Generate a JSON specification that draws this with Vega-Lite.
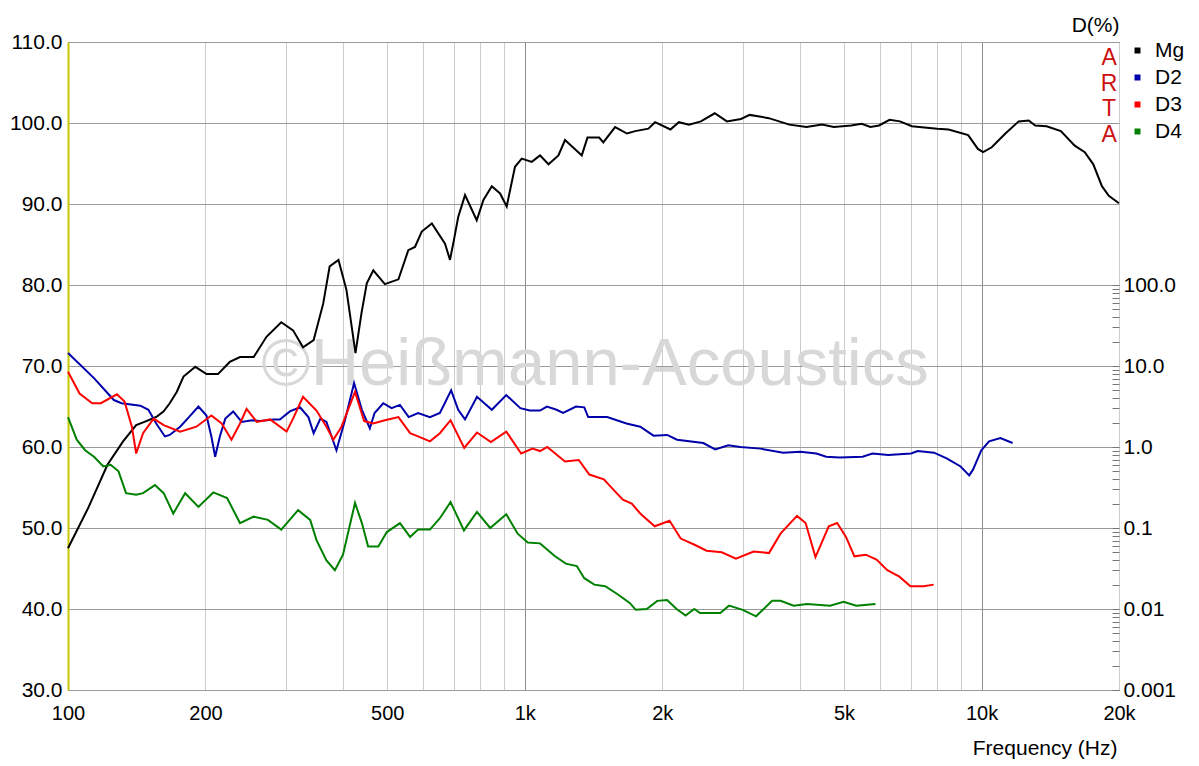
{
"$schema": "https://vega.github.io/schema/vega-lite/v6.json",
"width": 1051,
"height": 648,
"autosize": {"type": "none"},
"padding": {"left": 68, "top": 42, "right": 80, "bottom": 76},
"background": "white",
"config": {"view": {"stroke": "#333333", "strokeWidth": 1}, "font": "Liberation Sans", "text": {"font": "Liberation Sans"}},
"datasets": {
"wm": [{"f": 1425, "db": 67.6, "t": "©Heißmann-Acoustics"}],
"arta": [{"f": 19030, "db": 107.2, "t": "A"}, {"f": 19030, "db": 104.0, "t": "R"}, {"f": 19030, "db": 100.9, "t": "T"}, {"f": 19030, "db": 97.7, "t": "A"}],
"mg": [
{"f":100,"db":47.5},{"f":111,"db":52.6},{"f":122,"db":57.8},{"f":132,"db":60.7},{"f":141,"db":62.7},{"f":147,"db":63.1},{"f":156,"db":63.7},{"f":162,"db":64.4},{"f":167,"db":65.4},{"f":173,"db":66.8},{"f":179,"db":68.7},{"f":190,"db":69.9},{"f":201,"db":69.0},{"f":213,"db":69.0},{"f":226,"db":70.5},{"f":238,"db":71.1},{"f":255,"db":71.1},{"f":272,"db":73.6},{"f":293,"db":75.4},{"f":311,"db":74.4},{"f":327,"db":72.3},{"f":345,"db":73.2},{"f":362,"db":77.7},{"f":374,"db":82.3},{"f":391,"db":83.1},{"f":407,"db":79.4},{"f":426,"db":71.6},{"f":439,"db":76.5},{"f":451,"db":80.2},{"f":466,"db":81.8},{"f":494,"db":80.1},{"f":529,"db":80.7},{"f":556,"db":84.3},{"f":575,"db":84.7},{"f":595,"db":86.6},{"f":626,"db":87.6},{"f":669,"db":85.1},{"f":686,"db":83.1},{"f":700,"db":85.6},{"f":715,"db":88.4},{"f":740,"db":91.1},{"f":785,"db":88.0},{"f":812,"db":90.5},{"f":847,"db":92.2},{"f":883,"db":91.3},{"f":913,"db":89.7},{"f":952,"db":94.6},{"f":985,"db":95.6},{"f":1036,"db":95.2},{"f":1080,"db":96.0},{"f":1127,"db":94.9},{"f":1185,"db":96.0},{"f":1225,"db":97.9},{"f":1333,"db":96.0},{"f":1372,"db":98.2},{"f":1455,"db":98.2},{"f":1486,"db":97.6},{"f":1577,"db":99.5},{"f":1674,"db":98.7},{"f":1745,"db":99.0},{"f":1865,"db":99.3},{"f":1929,"db":100.1},{"f":2084,"db":99.2},{"f":2175,"db":100.1},{"f":2289,"db":99.8},{"f":2430,"db":100.2},{"f":2606,"db":101.2},{"f":2771,"db":100.2},{"f":2974,"db":100.5},{"f":3108,"db":101.0},{"f":3422,"db":100.6},{"f":3796,"db":99.8},{"f":4140,"db":99.5},{"f":4474,"db":99.8},{"f":4751,"db":99.5},{"f":5185,"db":99.7},{"f":5465,"db":99.9},{"f":5710,"db":99.5},{"f":5966,"db":99.7},{"f":6290,"db":100.4},{"f":6630,"db":100.2},{"f":7040,"db":99.6},{"f":8000,"db":99.3},{"f":8470,"db":99.2},{"f":9350,"db":98.5},{"f":9820,"db":96.8},{"f":10080,"db":96.4},{"f":10530,"db":97.0},{"f":11280,"db":98.7},{"f":12060,"db":100.2},{"f":12690,"db":100.3},{"f":13110,"db":99.7},{"f":13880,"db":99.6},{"f":14920,"db":99.0},{"f":16000,"db":97.2},{"f":16830,"db":96.4},{"f":17570,"db":94.9},{"f":18350,"db":92.2},{"f":19000,"db":91.0},{"f":20000,"db":90.1}
],
"dist": [
{"s":"D2","f":100,"p":14.5},{"s":"D2","f":114,"p":7.08},{"s":"D2","f":126,"p":3.8},{"s":"D2","f":131,"p":3.47},{"s":"D2","f":144,"p":3.24},{"s":"D2","f":150,"p":2.88},{"s":"D2","f":156,"p":1.95},{"s":"D2","f":163,"p":1.35},{"s":"D2","f":167,"p":1.41},{"s":"D2","f":176,"p":1.78},{"s":"D2","f":184,"p":2.34},{"s":"D2","f":193,"p":3.16},{"s":"D2","f":201,"p":2.45},{"s":"D2","f":206,"p":1.35},{"s":"D2","f":210,"p":0.759},{"s":"D2","f":215,"p":1.35},{"s":"D2","f":221,"p":2.24},{"s":"D2","f":230,"p":2.75},{"s":"D2","f":240,"p":2.04},{"s":"D2","f":253,"p":2.14},{"s":"D2","f":263,"p":2.09},{"s":"D2","f":282,"p":2.19},{"s":"D2","f":291,"p":2.19},{"s":"D2","f":306,"p":2.75},{"s":"D2","f":322,"p":3.09},{"s":"D2","f":336,"p":2.34},{"s":"D2","f":345,"p":1.48},{"s":"D2","f":357,"p":2.24},{"s":"D2","f":368,"p":2.04},{"s":"D2","f":387,"p":0.912},{"s":"D2","f":404,"p":2.14},{"s":"D2","f":423,"p":6.17},{"s":"D2","f":440,"p":2.88},{"s":"D2","f":458,"p":1.7},{"s":"D2","f":469,"p":2.63},{"s":"D2","f":490,"p":3.47},{"s":"D2","f":511,"p":3.02},{"s":"D2","f":533,"p":3.31},{"s":"D2","f":557,"p":2.34},{"s":"D2","f":584,"p":2.63},{"s":"D2","f":620,"p":2.34},{"s":"D2","f":652,"p":2.63},{"s":"D2","f":690,"p":5.01},{"s":"D2","f":715,"p":2.88},{"s":"D2","f":740,"p":2.19},{"s":"D2","f":786,"p":4.17},{"s":"D2","f":847,"p":2.88},{"s":"D2","f":911,"p":4.37},{"s":"D2","f":978,"p":3.02},{"s":"D2","f":1025,"p":2.82},{"s":"D2","f":1080,"p":2.82},{"s":"D2","f":1118,"p":3.16},{"s":"D2","f":1174,"p":2.88},{"s":"D2","f":1213,"p":2.63},{"s":"D2","f":1295,"p":3.16},{"s":"D2","f":1350,"p":3.09},{"s":"D2","f":1377,"p":2.34},{"s":"D2","f":1515,"p":2.34},{"s":"D2","f":1670,"p":1.95},{"s":"D2","f":1790,"p":1.78},{"s":"D2","f":1914,"p":1.38},{"s":"D2","f":2050,"p":1.41},{"s":"D2","f":2155,"p":1.23},{"s":"D2","f":2460,"p":1.12},{"s":"D2","f":2612,"p":0.933},{"s":"D2","f":2790,"p":1.05},{"s":"D2","f":2965,"p":1.0},{"s":"D2","f":3280,"p":0.955},{"s":"D2","f":3680,"p":0.851},{"s":"D2","f":4010,"p":0.871},{"s":"D2","f":4350,"p":0.832},{"s":"D2","f":4570,"p":0.759},{"s":"D2","f":4890,"p":0.741},{"s":"D2","f":5490,"p":0.759},{"s":"D2","f":5770,"p":0.832},{"s":"D2","f":6250,"p":0.794},{"s":"D2","f":7010,"p":0.832},{"s":"D2","f":7250,"p":0.891},{"s":"D2","f":7870,"p":0.851},{"s":"D2","f":8390,"p":0.724},{"s":"D2","f":9000,"p":0.575},{"s":"D2","f":9400,"p":0.447},{"s":"D2","f":9580,"p":0.525},{"s":"D2","f":9990,"p":0.912},{"s":"D2","f":10390,"p":1.175},{"s":"D2","f":11000,"p":1.29},{"s":"D2","f":11700,"p":1.12},
{"s":"D3","f":100,"p":8.51},{"s":"D3","f":106,"p":4.57},{"s":"D3","f":113,"p":3.47},{"s":"D3","f":118,"p":3.47},{"s":"D3","f":128,"p":4.47},{"s":"D3","f":133,"p":3.63},{"s":"D3","f":138,"p":1.78},{"s":"D3","f":141,"p":0.832},{"s":"D3","f":146,"p":1.48},{"s":"D3","f":154,"p":2.24},{"s":"D3","f":162,"p":1.86},{"s":"D3","f":176,"p":1.55},{"s":"D3","f":191,"p":1.78},{"s":"D3","f":206,"p":2.45},{"s":"D3","f":217,"p":1.95},{"s":"D3","f":228,"p":1.23},{"s":"D3","f":238,"p":1.95},{"s":"D3","f":246,"p":2.95},{"s":"D3","f":259,"p":2.04},{"s":"D3","f":277,"p":2.19},{"s":"D3","f":301,"p":1.55},{"s":"D3","f":311,"p":2.24},{"s":"D3","f":327,"p":4.17},{"s":"D3","f":350,"p":2.82},{"s":"D3","f":368,"p":1.78},{"s":"D3","f":381,"p":1.23},{"s":"D3","f":397,"p":1.78},{"s":"D3","f":425,"p":4.79},{"s":"D3","f":445,"p":2.09},{"s":"D3","f":466,"p":1.95},{"s":"D3","f":494,"p":2.14},{"s":"D3","f":529,"p":2.34},{"s":"D3","f":561,"p":1.48},{"s":"D3","f":584,"p":1.35},{"s":"D3","f":620,"p":1.175},{"s":"D3","f":652,"p":1.48},{"s":"D3","f":688,"p":2.14},{"s":"D3","f":737,"p":0.977},{"s":"D3","f":786,"p":1.51},{"s":"D3","f":843,"p":1.15},{"s":"D3","f":911,"p":1.55},{"s":"D3","f":982,"p":0.832},{"s":"D3","f":1040,"p":0.955},{"s":"D3","f":1080,"p":0.891},{"s":"D3","f":1120,"p":1.0},{"s":"D3","f":1225,"p":0.661},{"s":"D3","f":1313,"p":0.692},{"s":"D3","f":1385,"p":0.457},{"s":"D3","f":1490,"p":0.398},{"s":"D3","f":1565,"p":0.295},{"s":"D3","f":1640,"p":0.224},{"s":"D3","f":1715,"p":0.2},{"s":"D3","f":1790,"p":0.151},{"s":"D3","f":1925,"p":0.105},{"s":"D3","f":2075,"p":0.123},{"s":"D3","f":2195,"p":0.0741},{"s":"D3","f":2360,"p":0.0617},{"s":"D3","f":2500,"p":0.0525},{"s":"D3","f":2700,"p":0.0501},{"s":"D3","f":2900,"p":0.0417},{"s":"D3","f":3170,"p":0.0513},{"s":"D3","f":3425,"p":0.049},{"s":"D3","f":3630,"p":0.0851},{"s":"D3","f":3945,"p":0.141},{"s":"D3","f":4120,"p":0.115},{"s":"D3","f":4330,"p":0.0437},{"s":"D3","f":4630,"p":0.105},{"s":"D3","f":4830,"p":0.115},{"s":"D3","f":5050,"p":0.0776},{"s":"D3","f":5270,"p":0.0447},{"s":"D3","f":5580,"p":0.0468},{"s":"D3","f":5890,"p":0.0407},{"s":"D3","f":6220,"p":0.0302},{"s":"D3","f":6610,"p":0.0251},{"s":"D3","f":6990,"p":0.0191},{"s":"D3","f":7470,"p":0.0191},{"s":"D3","f":7860,"p":0.02},
{"s":"D4","f":100,"p":2.34},{"s":"D4","f":104.5,"p":1.23},{"s":"D4","f":109,"p":0.912},{"s":"D4","f":114,"p":0.759},{"s":"D4","f":119.5,"p":0.575},{"s":"D4","f":124,"p":0.603},{"s":"D4","f":129,"p":0.501},{"s":"D4","f":134,"p":0.269},{"s":"D4","f":141,"p":0.257},{"s":"D4","f":146,"p":0.269},{"s":"D4","f":155,"p":0.339},{"s":"D4","f":162,"p":0.269},{"s":"D4","f":170,"p":0.151},{"s":"D4","f":180.5,"p":0.269},{"s":"D4","f":193,"p":0.182},{"s":"D4","f":208,"p":0.275},{"s":"D4","f":223,"p":0.234},{"s":"D4","f":238,"p":0.115},{"s":"D4","f":255,"p":0.138},{"s":"D4","f":274,"p":0.126},{"s":"D4","f":293,"p":0.0955},{"s":"D4","f":319,"p":0.166},{"s":"D4","f":339,"p":0.126},{"s":"D4","f":350,"p":0.0708},{"s":"D4","f":368,"p":0.0398},{"s":"D4","f":384,"p":0.0302},{"s":"D4","f":400,"p":0.0468},{"s":"D4","f":425,"p":0.204},{"s":"D4","f":440,"p":0.115},{"s":"D4","f":454,"p":0.0589},{"s":"D4","f":478,"p":0.0589},{"s":"D4","f":499,"p":0.0891},{"s":"D4","f":533,"p":0.115},{"s":"D4","f":561,"p":0.0776},{"s":"D4","f":584,"p":0.0955},{"s":"D4","f":620,"p":0.0955},{"s":"D4","f":652,"p":0.132},{"s":"D4","f":688,"p":0.209},{"s":"D4","f":736,"p":0.0933},{"s":"D4","f":786,"p":0.158},{"s":"D4","f":840,"p":0.1},{"s":"D4","f":911,"p":0.148},{"s":"D4","f":965,"p":0.0851},{"s":"D4","f":1015,"p":0.0661},{"s":"D4","f":1080,"p":0.0646},{"s":"D4","f":1165,"p":0.0447},{"s":"D4","f":1230,"p":0.0363},{"s":"D4","f":1300,"p":0.0339},{"s":"D4","f":1350,"p":0.024},{"s":"D4","f":1420,"p":0.02},{"s":"D4","f":1500,"p":0.0191},{"s":"D4","f":1600,"p":0.0151},{"s":"D4","f":1700,"p":0.0118},{"s":"D4","f":1750,"p":0.00977},{"s":"D4","f":1850,"p":0.01},{"s":"D4","f":1950,"p":0.0126},{"s":"D4","f":2050,"p":0.0129},{"s":"D4","f":2150,"p":0.01},{"s":"D4","f":2250,"p":0.00832},{"s":"D4","f":2350,"p":0.01},{"s":"D4","f":2420,"p":0.00891},{"s":"D4","f":2680,"p":0.00891},{"s":"D4","f":2800,"p":0.011},{"s":"D4","f":3000,"p":0.00977},{"s":"D4","f":3210,"p":0.00813},{"s":"D4","f":3480,"p":0.0126},{"s":"D4","f":3630,"p":0.0126},{"s":"D4","f":3880,"p":0.011},{"s":"D4","f":4150,"p":0.0115},{"s":"D4","f":4660,"p":0.011},{"s":"D4","f":4990,"p":0.0123},{"s":"D4","f":5320,"p":0.011},{"s":"D4","f":5860,"p":0.0115}
]
},
"encoding": {
"x": {"field": "f", "type": "quantitative",
 "scale": {"type": "log", "domain": [100, 20000], "nice": false},
 "axis": {
  "values": [100,200,300,400,500,600,700,800,900,1000,2000,3000,4000,5000,6000,7000,8000,9000,10000,20000],
  "labelExpr": "indexof([100,200,500,1000,2000,5000,10000,20000], datum.value) >= 0 ? (datum.value >= 1000 ? (datum.value/1000) + 'k' : datum.value + '') : ''",
  "grid": true,
  "gridColor": {"condition": {"test": "datum.value == 1000 || datum.value == 10000", "value": "#8c8c8c"}, "value": "#cccccc"},
  "gridWidth": 1,
  "ticks": false, "domain": false,
  "labelFontSize": 20, "labelColor": "#000000", "labelPadding": 13,
  "labelFlush": false, "labelOverlap": false, "labelBound": false,
  "title": "Frequency (Hz)", "titleFontSize": 21, "titleFontWeight": "normal", "titleColor": "#000000",
  "titleAnchor": "end", "titleAlign": "right", "titleBaseline": "alphabetic", "titleX": 1049, "titleY": 64
 }}
},
"layer": [
 {
  "encoding": {"y": {"field": "db", "type": "quantitative",
   "scale": {"domain": [30, 110], "nice": false, "zero": false},
   "axis": {"values": [30,40,50,60,70,80,90,100,110], "format": ".1f", "grid": true, "gridColor": "#9a9a9a", "gridWidth": 1,
    "ticks": false, "domainColor": "#c8c800", "domainWidth": 2, "labelFontSize": 21, "labelColor": "#000000", "labelPadding": 6, "labelOverlap": false, "labelFlush": false, "title": null}}},
  "layer": [
   {"data": {"name": "wm"}, "mark": {"type": "text", "fontSize": 67, "color": "#d8d8d8", "align": "center", "baseline": "alphabetic"}, "encoding": {"text": {"field": "t"}}},
   {"data": {"name": "mg"}, "mark": {"type": "line", "color": "#000000", "strokeWidth": 2}, "encoding": {}},
   {"data": {"name": "arta"}, "mark": {"type": "text", "fontSize": 23, "color": "#cc1111", "align": "center", "baseline": "alphabetic"}, "encoding": {"text": {"field": "t"}}}
  ]
 },
 {
  "data": {"name": "dist"},
  "mark": {"type": "line", "strokeWidth": 2},
  "encoding": {
   "y": {"field": "p", "type": "quantitative",
    "scale": {"type": "log", "domain": [0.001, 100000], "nice": false},
    "axis": {"orient": "right",
     "values": [0.001,0.002,0.003,0.004,0.005,0.006,0.007,0.008,0.009,0.01,0.02,0.03,0.04,0.05,0.06,0.07,0.08,0.09,0.1,0.2,0.3,0.4,0.5,0.6,0.7,0.8,0.9,1,2,3,4,5,6,7,8,9,10,20,30,40,50,60,70,80,90,100],
     "labelExpr": "datum.value == 100 ? '100.0' : datum.value == 10 ? '10.0' : datum.value == 1 ? '1.0' : datum.value == 0.1 ? '0.1' : datum.value == 0.01 ? '0.01' : datum.value == 0.001 ? '0.001' : ''",
     "grid": false, "domain": false, "tickSize": -7, "tickColor": "#777777",
     "labelPadding": 11, "labelFontSize": 21, "labelColor": "#000000", "labelOverlap": false, "labelFlush": false, "labelBound": false,
     "title": "D(%)", "titleAngle": 0, "titleAlign": "right", "titleBaseline": "alphabetic", "titleX": 0, "titleY": -11,
     "titleFontSize": 21, "titleFontWeight": "normal", "titleColor": "#000000"}},
   "color": {"field": "s", "type": "nominal",
    "scale": {"domain": ["Mg", "D2", "D3", "D4"], "range": ["#000000", "#0000aa", "#ff0000", "#008000"]},
    "legend": {"orient": "none", "legendX": 1059, "legendY": -2, "title": null, "symbolType": "square", "symbolSize": 4, "symbolStrokeWidth": 4,
     "labelFontSize": 21, "labelColor": "#000000", "labelOffset": 7, "rowPadding": 5, "padding": 0}}
  }
 }
],
"resolve": {"scale": {"y": "independent"}, "axis": {"y": "independent"}}
}
